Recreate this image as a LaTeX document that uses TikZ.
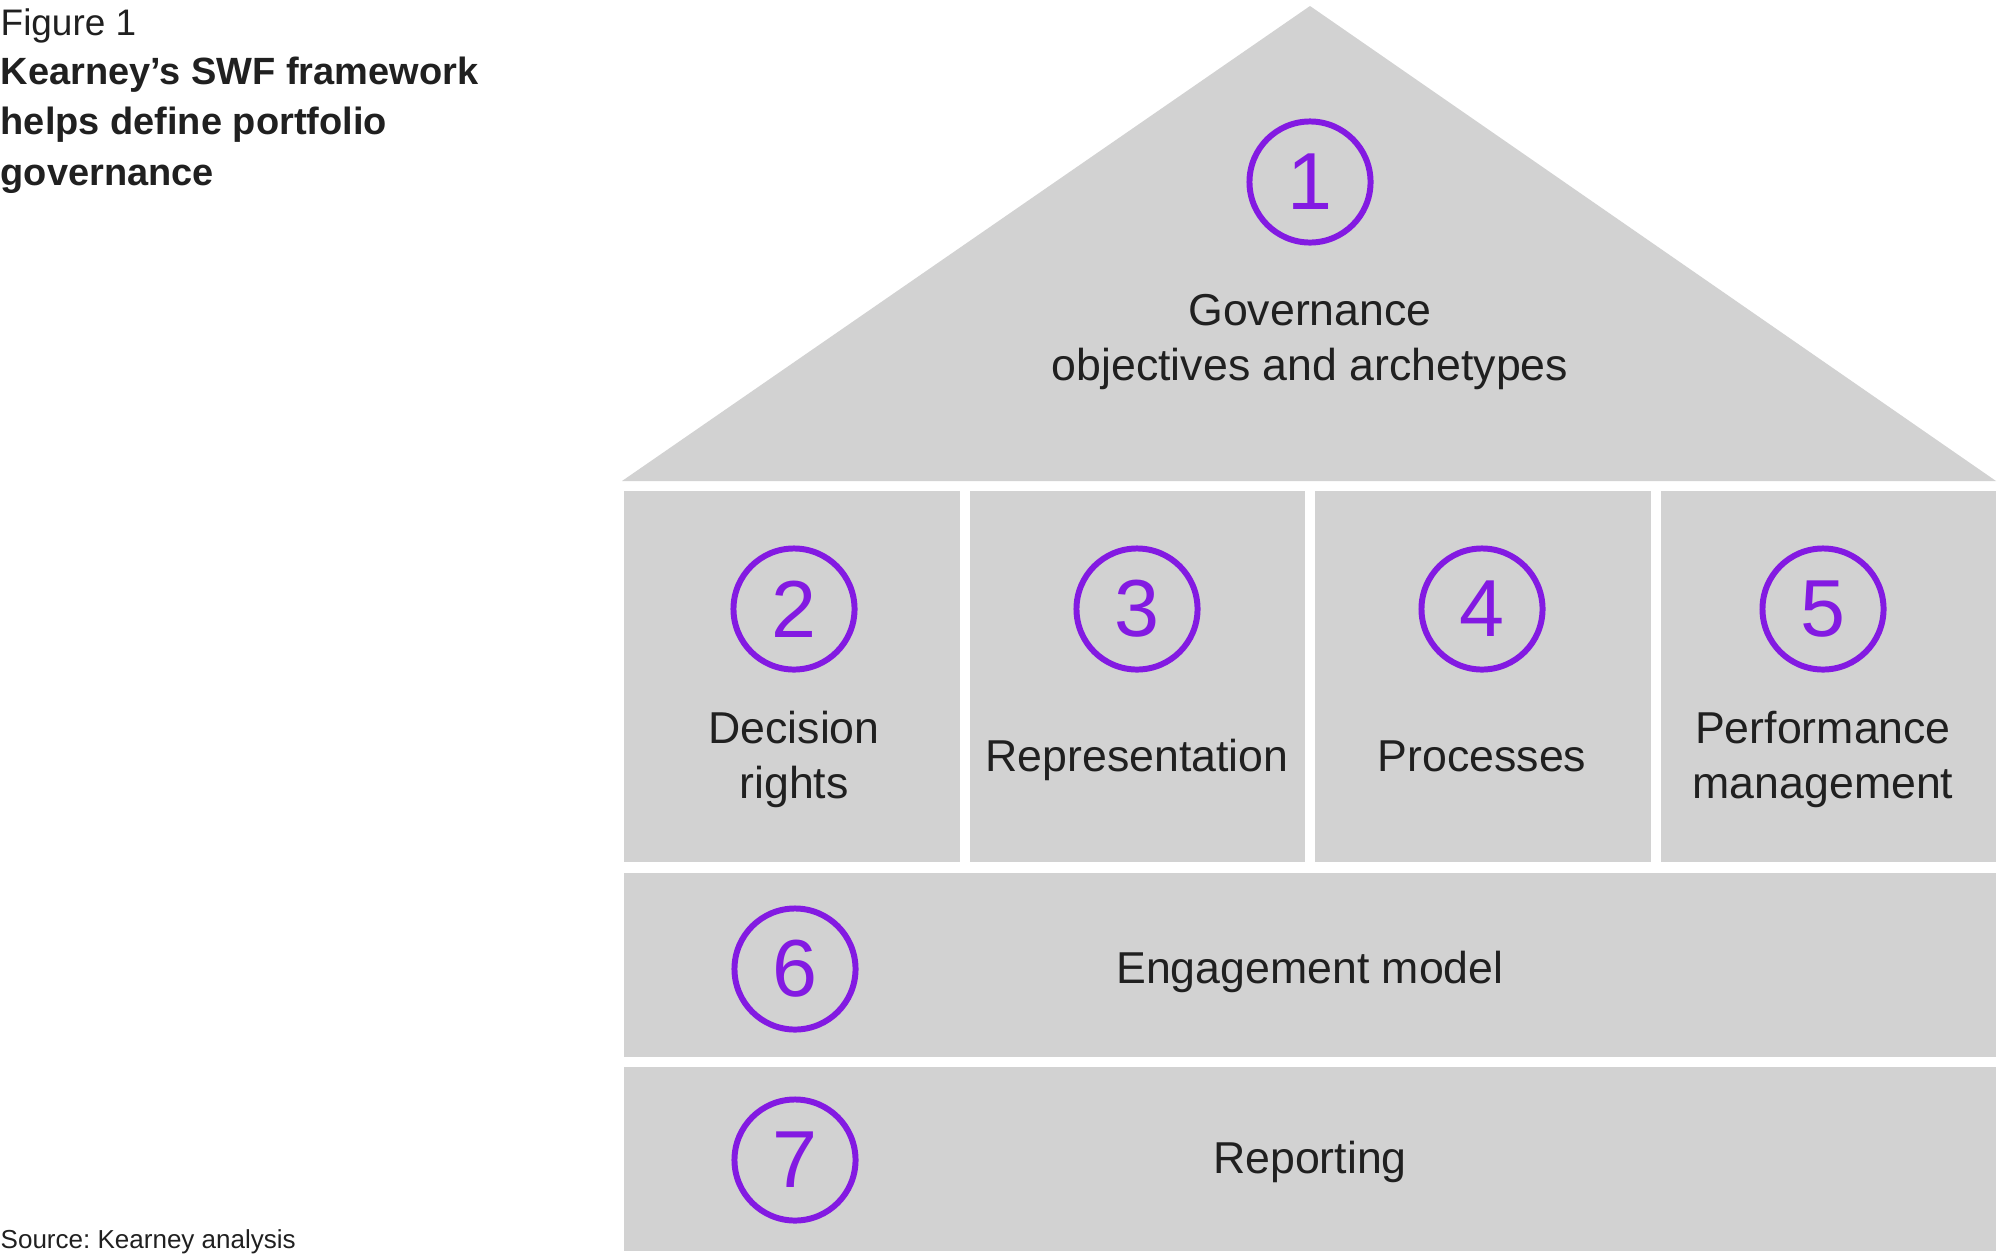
\documentclass[tikz,border=0pt]{standalone}
\usepackage{fontspec}
\setmainfont{Liberation Sans}
\definecolor{kgray}{HTML}{D2D2D2}
\definecolor{kpurple}{RGB}{131,26,226}
\definecolor{ktext}{HTML}{202020}

\begin{document}
\frenchspacing
\begin{tikzpicture}[x=0.01cm, y=-0.01cm,
    numc/.style={circle, draw=kpurple, line width=1.7pt, minimum size=1.21cm,
      inner sep=0pt, text=kpurple, font=\fontsize{23}{23}\selectfont},
    lbl/.style={align=center, anchor=base, inner sep=0pt, text=ktext,
      font=\fontsize{12.7}{15.6}\selectfont}]
  % Medidas en pixeles de la figura
  \def\xl{624}     % borde izquierdo de la casa
  \def\xr{1996}    % borde derecho de la casa
  \def\bw{335.5}   % ancho de cada pilar
  \def\gap{10}     % separacion blanca

  % Cálculos auxiliares
  \pgfmathsetmacro{\xm}{(\xl+\xr)/2}

  \useasboundingbox (0,0) rectangle (2000,1254);

  % Titulo
  \node[anchor=base west, inner sep=0pt, text=ktext,
    font=\fontsize{10.5}{12}\selectfont] (fig) at (0,35) {Figure 1};
  \node[anchor=base west, align=left, inner sep=0pt, text=ktext,
    font=\bfseries\fontsize{10.8}{14.3}\selectfont] (title) at (0,185)
    {Kearney’s SWF framework\\helps define portfolio\\governance};

  % Techo
  \fill[kgray] (622,481) -- (\xm,6) -- (\xr,481) -- cycle;

  % Pilares
  \foreach \i in {0,...,3}
    \fill[kgray] ({\xl+\i*(\bw+\gap)},491) rectangle ++(\bw,371);

  % Franjas inferiores
  \fill[kgray] (\xl,873) rectangle (\xr,1057);
  \fill[kgray] (\xl,1067) rectangle (\xr,1251);

  % 1: objetivos
  \node[numc] (n1) at (\xm,182) {1};
  \node[lbl] (gov) at (\xm,380) {Governance\\objectives and archetypes};

  % 2 a 5: pilares
  \node[numc] (n2) at (794,609) {2};
  \node[lbl] (dec) at (794,798) {Decision\\rights};
  \node[numc] (n3) at (1137,609) {3};
  \node[lbl] (rep) at (1137,771) {Representation};
  \node[numc] (n4) at (1482,609) {4};
  \node[lbl] (proc) at (1482,771) {Processes};
  \node[numc] (n5) at (1823,609) {5};
  \node[lbl] (perf) at (1823,798) {Performance\\management};

  % 6 y 7: franjas
  \node[numc] (n6) at (795,969) {6};
  \node[lbl] (eng) at (\xm,983) {Engagement model};
  \node[numc] (n7) at (795,1160) {7};
  \node[lbl] (rpt) at (\xm,1173) {Reporting};

  % Fuente
  \node[anchor=base west, inner sep=0pt, text=ktext,
    font=\fontsize{7.4}{9}\selectfont] (src) at (0,1248) {Source: Kearney analysis};
\end{tikzpicture}
\end{document}
